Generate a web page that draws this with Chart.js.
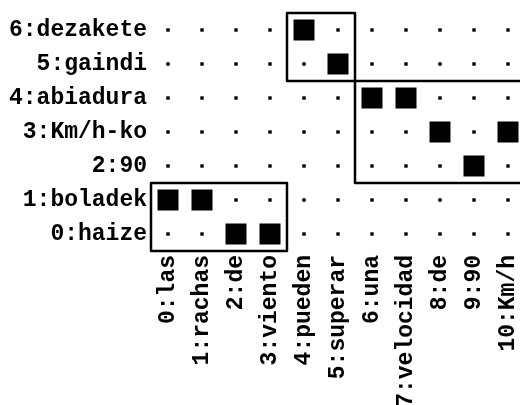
<!DOCTYPE html>
<html>
<head>
<meta charset="utf-8">
<script src="https://cdn.jsdelivr.net/npm/chart.js@4/dist/chart.umd.min.js"></script>
<style>
  html, body { margin: 0; padding: 0; background: #fff; }
  #c { display: block; }
</style>
</head>
<body>
<canvas id="c" width="520" height="405"></canvas>
<script>
// Source tokens (x axis) and target tokens (y axis)
const srcTokens = ['0:las', '1:rachas', '2:de', '3:viento', '4:pueden', '5:superar', '6:una', '7:velocidad', '8:de', '9:90', '10:Km/h'];
const tgtTokens = ['0:haize', '1:boladek', '2:90', '3:Km/h-ko', '4:abiadura', '5:gaindi', '6:dezakete'];

// Alignment links (column index into srcTokens, row index into tgtTokens)
const alignCols = [0, 1, 2, 3, 4, 5, 6, 7, 8, 10, 9];
const alignRows = [1, 1, 0, 0, 6, 5, 4, 4, 3, 3, 2];

// Phrase boxes (inclusive index ranges)
const boxCols = [[0, 3], [4, 5], [6, 10]];
const boxRows = [[0, 1], [5, 6], [2, 4]];

const aligned = alignCols.map((c, i) => ({ x: c, y: alignRows[i] }));
const isAligned = (c, r) => aligned.some(p => p.x === c && p.y === r);
const dots = [];
srcTokens.forEach((_, c) => tgtTokens.forEach((_, r) => { if (!isAligned(c, r)) dots.push({ x: c, y: r }); }));

const FONT = { family: "'Liberation Mono', 'DejaVu Sans Mono', monospace", size: 23, weight: 'bold' };

const zeroPad = () => ({ left: 0, top: 0, right: 0, bottom: 0 });
const noPadPlugin = {
  id: 'noScalePadding',
  beforeLayout(chart) {
    Object.values(chart.scales).forEach(s => { s.getPadding = zeroPad; });
  }
};

const boxPlugin = {
  id: 'phraseBoxes',
  afterDatasetsDraw(chart) {
    const { ctx, scales: { x, y } } = chart;
    ctx.save();
    ctx.strokeStyle = '#000';
    ctx.lineWidth = 2.5;
    ctx.lineJoin = 'round';
    boxCols.forEach((bc, i) => {
      const br = boxRows[i];
      const x0 = x.getPixelForValue(bc[0] - 0.5);
      const x1 = x.getPixelForValue(bc[1] + 0.5);
      const y0 = y.getPixelForValue(br[1] + 0.5);
      const y1 = y.getPixelForValue(br[0] - 0.5);
      ctx.strokeRect(x0, y0, x1 - x0, y1 - y0);
    });
    ctx.restore();
  }
};

new Chart(document.getElementById('c'), {
  type: 'scatter',
  data: {
    datasets: [
      { data: dots, pointStyle: 'rect', pointRadius: 2.4, backgroundColor: '#000', borderWidth: 0, clip: false },
      { data: aligned, pointStyle: 'rect', pointRadius: 14.85, backgroundColor: '#000', borderWidth: 0, clip: false }
    ]
  },
  options: {
    responsive: false,
    animation: false,
    layout: { autoPadding: false, padding: { top: 13, right: 0, bottom: 0, left: 0 } },
    plugins: { legend: { display: false }, tooltip: { enabled: false } },
    scales: {
      x: {
        type: 'linear',
        min: -0.5,
        max: -0.5 + 369 / 34,
        grid: { display: false, drawTicks: false },
        border: { display: false },
        afterBuildTicks: s => { s.ticks = srcTokens.map((_, i) => ({ value: i })); },
        afterFit: s => { s.height = 154; s.paddingLeft = 0; s.paddingRight = 0; },
        ticks: {
          autoSkip: false,
          minRotation: 90,
          maxRotation: 90,
          padding: 4,
          color: '#000',
          font: FONT,
          callback: v => srcTokens[v]
        }
      },
      y: {
        type: 'linear',
        min: -0.5,
        max: 6.5,
        grid: { display: false, drawTicks: false },
        border: { display: false },
        afterBuildTicks: s => { s.ticks = tgtTokens.map((_, i) => ({ value: i })); },
        afterFit: s => { s.width = 151; s.paddingTop = 0; s.paddingBottom = 0; },
        ticks: {
          autoSkip: false,
          padding: 4,
          color: '#000',
          font: FONT,
          callback: v => tgtTokens[v]
        }
      }
    }
  },
  plugins: [noPadPlugin, boxPlugin]
});
</script>
</body>
</html>
